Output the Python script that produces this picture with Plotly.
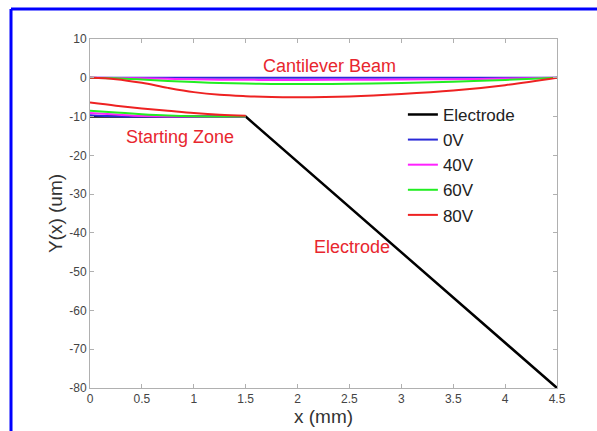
import plotly.graph_objects as go

# Electrode profile
elec_x = [0, 1.5, 4.5]
elec_y = [-10, -10, -80]

# Cantilever beam deflection (top curves)
beam_x = [0, 0.25, 0.5, 0.75, 1.0, 1.25, 1.5, 1.75, 2.0, 2.5, 3.0, 3.5, 4.0, 4.5]
beam_0v = [0, 0, 0, 0, 0, 0, 0, 0, 0, 0, 0, 0, 0, 0]
beam_40v = [0, -0.05, -0.15, -0.28, -0.4, -0.48, -0.53, -0.55, -0.55, -0.52, -0.45, -0.35, -0.2, 0]
beam_60v = [0, -0.15, -0.45, -0.8, -1.1, -1.35, -1.5, -1.58, -1.6, -1.55, -1.35, -1.0, -0.55, 0]
beam_80v = [0, -0.35, -1.3, -2.6, -3.7, -4.4, -4.75, -4.95, -5.0, -4.8, -4.2, -3.3, -1.9, 0]

# Starting zone curves (bottom)
start_x = [0, 0.25, 0.5, 0.75, 1.0, 1.25, 1.5]
start_0v = [-9.65, -9.95, -10, -10, -10, -10, -10]
start_40v = [-9.1, -9.5, -9.85, -10, -10, -10, -10]
start_60v = [-8.5, -8.95, -9.4, -9.75, -9.95, -10, -10]
start_80v = [-6.4, -7.2, -7.9, -8.5, -9.1, -9.55, -9.8]

labels = ["Electrode", "0V", "40V", "60V", "80V"]
colors = ["#000000", "#2a2ad8", "#ff22ff", "#22ee22", "#ee2222"]

x_tickvals = [0, 0.5, 1, 1.5, 2, 2.5, 3, 3.5, 4, 4.5]
x_ticktext = ["0", "0.5", "1", "1.5", "2", "2.5", "3", "3.5", "4", "4.5"]
y_tickvals = [-80, -70, -60, -50, -40, -30, -20, -10, 0, 10]
y_ticktext = ["-80", "-70", "-60", "-50", "-40", "-30", "-20", "-10", "0", "10"]

FONT = "Liberation Sans, Arial"

fig = go.Figure()
fig.add_trace(go.Scatter(x=elec_x, y=elec_y, mode="lines", name=labels[0],
                         line=dict(color=colors[0], width=2.5)))
tops = [beam_0v, beam_40v, beam_60v, beam_80v]
bots = [start_0v, start_40v, start_60v, start_80v]
for i in range(4):
    fig.add_trace(go.Scatter(x=beam_x, y=tops[i], mode="lines", name=labels[i + 1],
                             legendgroup=labels[i + 1], line=dict(color=colors[i + 1], width=2, shape="spline")))
for i in range(4):
    fig.add_trace(go.Scatter(x=start_x, y=bots[i], mode="lines", name=labels[i + 1],
                             legendgroup=labels[i + 1], showlegend=False,
                             line=dict(color=colors[i + 1], width=2, shape="spline")))

red = "#e8262e"
fig.add_annotation(x=2.31, y=3.0, text="Cantilever Beam", showarrow=False,
                   font=dict(color=red, size=18, family=FONT))
fig.add_annotation(x=0.87, y=-15.3, text="Starting Zone", showarrow=False,
                   font=dict(color=red, size=18, family=FONT))
fig.add_annotation(x=2.52, y=-43.7, text="Electrode", showarrow=False,
                   font=dict(color=red, size=18, family=FONT))

axis_common = dict(showgrid=False, zeroline=False, showline=True, linecolor="#b0b0b0",
                   linewidth=1, mirror="ticks", ticks="inside", ticklen=4, tickcolor="#b0b0b0",
                   tickfont=dict(size=12, color="#444444", family=FONT))

fig.update_layout(
    width=597, height=431,
    margin=dict(l=90, r=40, t=39, b=43),
    paper_bgcolor="white", plot_bgcolor="white",
    xaxis=dict(range=[0, 4.5], tickvals=x_tickvals, ticktext=x_ticktext,
               title=dict(text="x (mm)", standoff=0,
                          font=dict(size=19, color="#333333", family=FONT)),
               automargin=False, **axis_common),
    yaxis=dict(range=[-80, 10], tickvals=y_tickvals, ticktext=y_ticktext,
               title=dict(text="Y(x) (um)", standoff=1,
                          font=dict(size=19, color="#333333", family=FONT)),
               automargin=False, **axis_common),
    legend=dict(x=0.67, y=0.834, xanchor="left", yanchor="top", bgcolor="rgba(0,0,0,0)",
                tracegroupgap=0,
                font=dict(size=17, color="#222222", family=FONT)),
    showlegend=True,
)

# blue frame around the figure (only top and left edges fall inside the view)
fx0, fx1 = (11 - 90) / 467, (597 - 90) / 467
fy0, fy1 = (388 - 431) / 349, (388 - 9) / 349
fig.add_shape(type="line", xref="paper", yref="paper", x0=fx0, x1=fx1, y0=fy1, y1=fy1,
              line=dict(color="#0000ff", width=3))
fig.add_shape(type="line", xref="paper", yref="paper", x0=fx0, x1=fx0, y0=fy0, y1=fy1,
              line=dict(color="#0000ff", width=3))

fig.write_html("out.html", config={"displayModeBar": False},
               post_script="document.body.style.margin='0';document.body.style.overflow='hidden';")
